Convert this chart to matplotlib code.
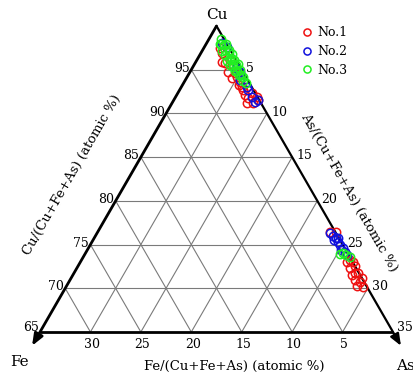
import numpy as np
import matplotlib
matplotlib.use("Agg")
import matplotlib.pyplot as plt

# ---- data (atomic %) ----
red_as = [1.6, 2.1, 2.6, 2.9, 3.8, 4.5, 4.5, 4.9, 5.5, 5.6, 6.05, 6.3, 6.8, 7.2, 7.4, 7.4, 8.0, 8.1, 8.4, 3.3,
          23.1, 23.6, 26.65, 27.0, 27.1, 27.45, 27.7, 28.15, 28.25, 28.9, 28.8, 29.45, 28.8, 26.4, 27.9]
red_fe = [0.9, 0.94, 1.5, 1.3, 1.5, 0.85, 1.44, 0.89, 0.87, 1.2, 0.95, 1.03, 1.11, 0.99, 0.31, 1.4, 0.8, 0.0, 0.1, 0.6,
          0.5, 0.0, 0.15, 0.0, 0.6, 0.0, 0.8, 0.1, 0.8, 0.4, 0.95, 0.4, 0.0, 0.6, 0.4]

blue_as = [1.5, 2.2, 4.3, 5.0, 5.4, 6.5, 6.8, 7.6, 8.2, 8.4,
           23.1, 23.6, 23.97, 24.4, 24.8, 25.25, 25.7, 23.9, 25.1, 26.0, 24.2]
blue_fe = [0.43, 0.2, 0.47, 0.3, 0.75, 0.46, 0.5, 0.54, 0.5, 0.1,
           0.59, 0.46, 0.28, 0.3, 0.28, 0.15, 0.19, 0.59, 0.47, 0.16, 0.05]

green_as = [1.2, 1.5, 1.8, 2.0, 2.2, 2.5, 2.7, 3.0, 3.2, 3.4, 3.6, 3.8, 4.0, 4.2, 4.4, 4.6, 4.8, 5.0, 5.2, 5.5,
            1.4, 2.0, 2.6, 3.1, 3.7, 4.3, 5.8, 6.2, 25.3, 25.5, 26.4, 25.9]
green_fe = [0.3, 0.6, 0.4, 0.9, 0.5, 0.8, 0.3, 1.0, 0.6, 0.4, 0.9, 0.5, 0.7, 0.3, 0.8, 0.5, 0.2, 0.6, 0.4, 0.3,
            0.7, 0.1, 0.2, 0.1, 0.2, 0.1, 0.5, 0.3, 0.74, 0.45, 0.0, 0.3]

series_labels = ["No.1", "No.2", "No.3"]
series_colors = ["#ee1111", "#1111dd", "#22ee22"]

grid_ticks = [5, 10, 15, 20, 25, 30]
cu_labels = [65, 70, 75, 80, 85, 90, 95]
as_labels = [5, 10, 15, 20, 25, 30, 35]
fe_labels = [5, 10, 15, 20, 25, 30]

CU_MIN = 65.0
SPAN = 35.0
H = np.sqrt(3) / 2


def tern(as_, fe):
    as_ = np.asarray(as_, float)
    fe = np.asarray(fe, float)
    cu = 100.0 - as_ - fe
    t = (cu - CU_MIN) / SPAN
    b = as_ / SPAN
    return b + 0.5 * t, t * H


plt.rcParams['font.family'] = ['DejaVu Serif']
W, Hpx = 414, 374
fig = plt.figure(figsize=(W / 100, Hpx / 100), dpi=100)
ax = fig.add_axes([40 / W, 42 / Hpx, 353 / W, 306 / Hpx])
ax.set_xlim(0, 1)
ax.set_ylim(0, H)
ax.axis("off")

gcol = "#7a7a7a"
glw = 0.8
for k in grid_ticks:
    cu = 65 + k
    x0, y0 = tern(0, 100 - cu)
    x1, y1 = tern(100 - cu, 0)
    ax.plot([x0, x1], [y0, y1], color=gcol, lw=glw, zorder=1)
    x0, y0 = tern(k, 35 - k)
    x1, y1 = tern(k, 0)
    ax.plot([x0, x1], [y0, y1], color=gcol, lw=glw, zorder=1)
    x0, y0 = tern(35 - k, k)
    x1, y1 = tern(0, k)
    ax.plot([x0, x1], [y0, y1], color=gcol, lw=glw, zorder=1)

# edges
ax.plot([0, 1], [0, 0], color="black", lw=2.0, zorder=3, clip_on=False, solid_capstyle="butt")
ext = 0.045
ax.annotate("", xy=(-ext * 0.5, -ext * H), xytext=(0.5, H),
            arrowprops=dict(arrowstyle="-|>,head_length=0.7,head_width=0.28", color="black", lw=2.0,
                            shrinkA=0, shrinkB=0), zorder=3, annotation_clip=False)
ax.annotate("", xy=(1 + ext * 0.5, -ext * H), xytext=(0.5, H),
            arrowprops=dict(arrowstyle="-|>,head_length=0.7,head_width=0.28", color="black", lw=1.6,
                            shrinkA=0, shrinkB=0), zorder=3, annotation_clip=False)

# data
for as_, fe, lab, col in zip([red_as, blue_as, green_as], [red_fe, blue_fe, green_fe],
                             series_labels, series_colors):
    x, y = tern(as_, fe)
    ax.plot(x, y, linestyle="none", marker="o", markersize=6.0, markerfacecolor="none",
            markeredgecolor=col, markeredgewidth=1.1, label=lab, zorder=4, clip_on=False)

fs = 9
for c in cu_labels:
    x, y = tern(0, 100 - c)
    ax.annotate(str(c), (x, y), xytext=(-1, 1 if c != 65 else 3), textcoords="offset points",
                ha="right", va="center", fontsize=fs, annotation_clip=False)
for a in as_labels:
    x, y = tern(a, 0)
    ax.annotate(str(a), (x, y), xytext=(3, 1 if a != 35 else 3), textcoords="offset points",
                ha="left", va="center", fontsize=fs, annotation_clip=False)
for f in fe_labels:
    x, y = tern(35 - f, f)
    ax.annotate(str(f), (x, y), xytext=(1, -4), textcoords="offset points",
                ha="center", va="top", fontsize=fs, annotation_clip=False)

# corner labels
fig.text(217 / W, 1 - 15 / Hpx, "Cu", ha="center", va="center", fontsize=11)
fig.text(19 / W, 1 - 362 / Hpx, "Fe", ha="center", va="center", fontsize=11)
fig.text(405 / W, 1 - 366 / Hpx, "As", ha="center", va="center", fontsize=11)

# axis titles
tfs = 9.5
fig.text(234 / W, 1 - 366 / Hpx, "Fe/(Cu+Fe+As) (atomic %)", ha="center", va="center", fontsize=tfs)
fig.text(72 / W, 1 - 175 / Hpx, "Cu/(Cu+Fe+As) (atomic %)", ha="center", va="center",
         fontsize=tfs, rotation=60, rotation_mode="anchor")
fig.text(349 / W, 1 - 192 / Hpx, "As/(Cu+Fe+As) (atomic %)", ha="center", va="center",
         fontsize=tfs, rotation=-60, rotation_mode="anchor")

fig.legend(loc="upper left", bbox_to_anchor=(297 / W, 1 - 20 / Hpx), frameon=False,
           handlelength=0.6, handletextpad=0.5, labelspacing=0.45, borderpad=0,
           fontsize=fs, markerscale=0.85)

fig.savefig("out.png", dpi=100)
